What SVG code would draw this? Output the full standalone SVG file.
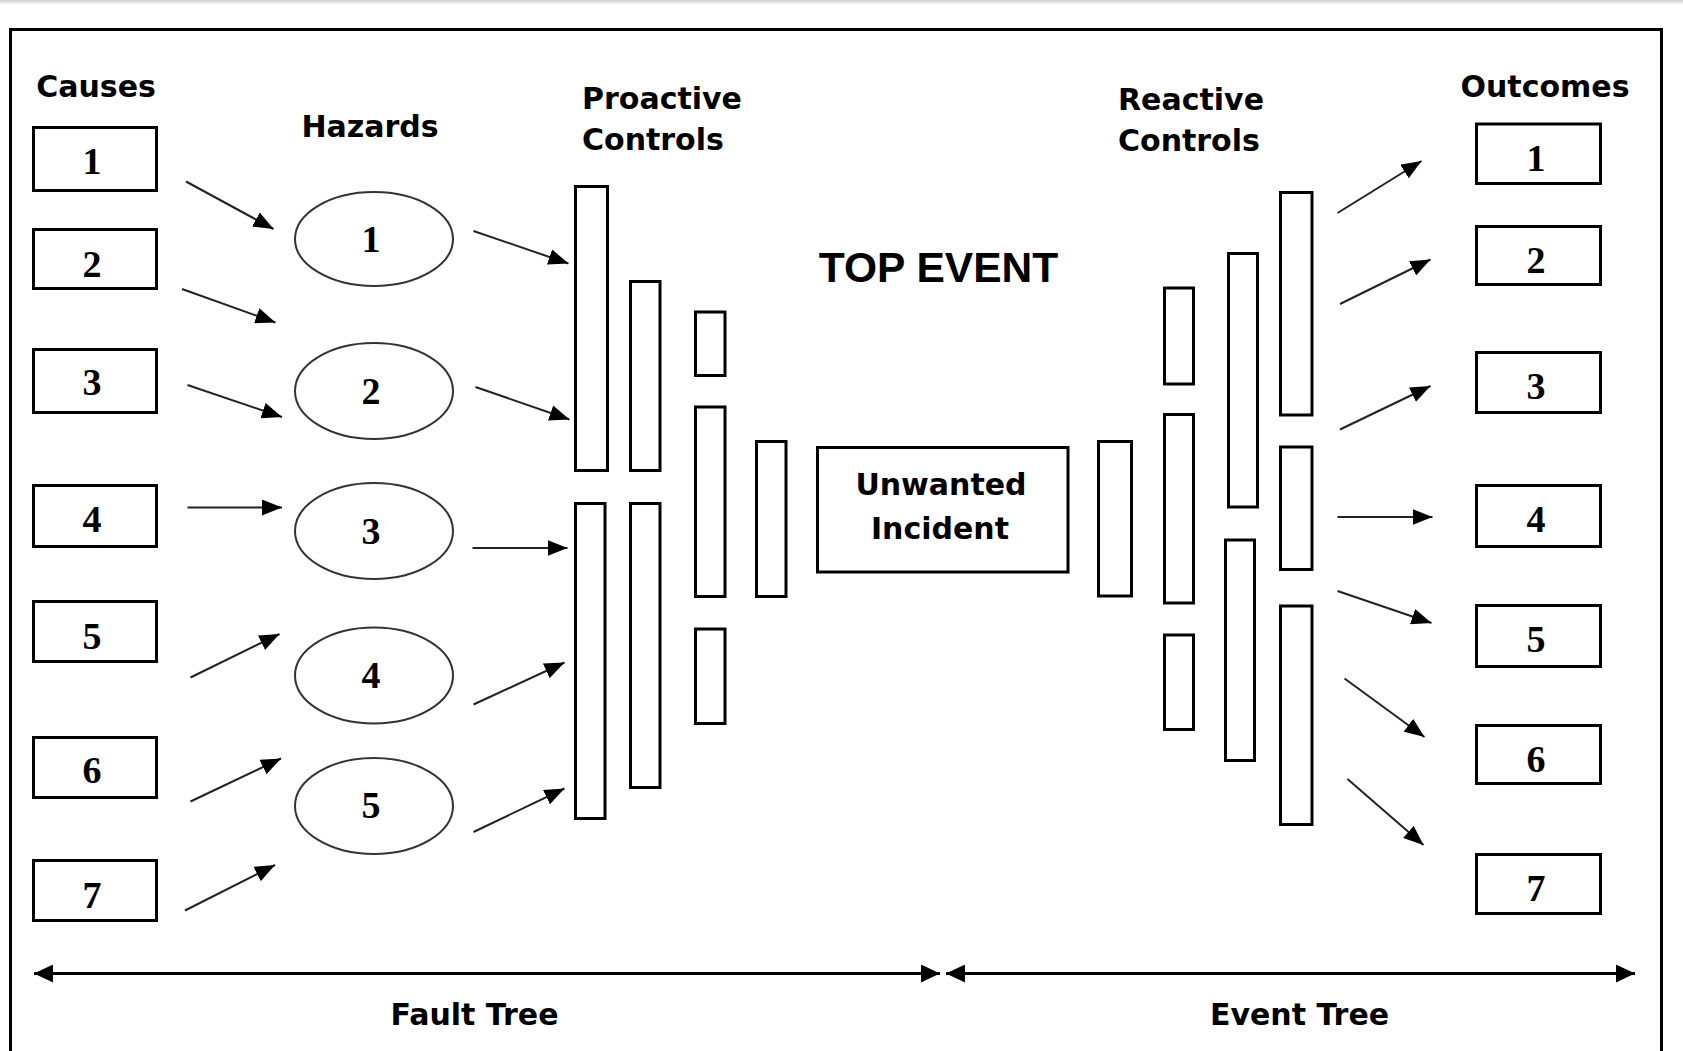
<svg xmlns="http://www.w3.org/2000/svg" width="1683" height="1051" viewBox="0 0 1683 1051">
<defs>
<style>
.bx{fill:#fff;stroke:#000;stroke-width:3}
.el{fill:#fff;stroke:#333;stroke-width:2}
.lbl{font-family:"DejaVu Sans",sans-serif;font-weight:bold;font-size:30px;fill:#000}
.num{font-family:"Liberation Serif",serif;font-weight:bold;font-size:38px;fill:#000;text-anchor:middle}
.ar{stroke:#222;stroke-width:2;fill:none;marker-end:url(#ah)}
.ax{stroke:#000;stroke-width:3;fill:none;marker-start:url(#ah2);marker-end:url(#ah2)}
</style>
<marker id="ah" viewBox="0 0 20 16" refX="20" refY="8" markerWidth="20" markerHeight="16" orient="auto" markerUnits="userSpaceOnUse"><path d="M0,0 L20,8 L0,16 Z" fill="#000"/></marker>
<marker id="ah2" viewBox="0 0 19 18" refX="19" refY="9" markerWidth="19" markerHeight="18" orient="auto-start-reverse" markerUnits="userSpaceOnUse"><path d="M0,0 L19,9 L0,18 Z" fill="#000"/></marker>
<linearGradient id="topg" x1="0" y1="0" x2="0" y2="1"><stop offset="0" stop-color="#d0d0d0"/><stop offset="1" stop-color="#fff"/></linearGradient>
</defs>
<rect x="0" y="0" width="1683" height="1051" fill="#fff"/>
<rect x="0" y="0" width="1683" height="5" fill="url(#topg)"/>
<rect id="frame" x="10.5" y="29.5" width="1651" height="1030" fill="none" stroke="#000" stroke-width="3"/>

<g id="labels">
<text class="lbl" x="96" y="97" text-anchor="middle">Causes</text>
<text class="lbl" x="370" y="137" text-anchor="middle">Hazards</text>
<text class="lbl" x="582" y="109">Proactive</text>
<text class="lbl" x="582" y="150">Controls</text>
<text class="lbl" x="1118" y="110">Reactive</text>
<text class="lbl" x="1118" y="151">Controls</text>
<text class="lbl" x="1545" y="97" text-anchor="middle">Outcomes</text>
<text x="938.5" y="282" text-anchor="middle" font-family="Liberation Sans, Arial, sans-serif" font-weight="bold" font-size="42.5">TOP EVENT</text>
<text class="lbl" x="474.5" y="1024.5" text-anchor="middle">Fault Tree</text>
<text class="lbl" x="1299.5" y="1024.5" text-anchor="middle">Event Tree</text>
</g>

<g id="causes">
<g id="cause1"><rect class="bx" x="33.5" y="127.5" width="123" height="63"/><text class="num" x="92" y="174">1</text></g>
<g id="cause2"><rect class="bx" x="33.5" y="229.5" width="123" height="59"/><text class="num" x="92" y="277">2</text></g>
<g id="cause3"><rect class="bx" x="33.5" y="349.5" width="123" height="63"/><text class="num" x="92" y="395">3</text></g>
<g id="cause4"><rect class="bx" x="33.5" y="485.5" width="123" height="61"/><text class="num" x="92" y="532">4</text></g>
<g id="cause5"><rect class="bx" x="33.5" y="601.5" width="123" height="60"/><text class="num" x="92" y="649">5</text></g>
<g id="cause6"><rect class="bx" x="33.5" y="737.5" width="123" height="60"/><text class="num" x="92" y="783">6</text></g>
<g id="cause7"><rect class="bx" x="33.5" y="860.5" width="123" height="60"/><text class="num" x="92" y="908">7</text></g>
</g>

<g id="hazards">
<g id="hazard1"><ellipse class="el" cx="374" cy="239" rx="79" ry="47"/><text class="num" x="371" y="252">1</text></g>
<g id="hazard2"><ellipse class="el" cx="374" cy="391" rx="79" ry="48"/><text class="num" x="371" y="404">2</text></g>
<g id="hazard3"><ellipse class="el" cx="374" cy="531" rx="79" ry="48"/><text class="num" x="371" y="544">3</text></g>
<g id="hazard4"><ellipse class="el" cx="374" cy="675.5" rx="79" ry="48"/><text class="num" x="371" y="688">4</text></g>
<g id="hazard5"><ellipse class="el" cx="374" cy="806" rx="79" ry="48"/><text class="num" x="371" y="818">5</text></g>
</g>

<g id="proactive-controls">
<rect id="p1a" class="bx" x="575.5" y="186.5" width="32" height="284"/>
<rect id="p1b" class="bx" x="575.5" y="503.5" width="29.5" height="315"/>
<rect id="p2a" class="bx" x="630.5" y="281.5" width="29.5" height="189"/>
<rect id="p2b" class="bx" x="630.5" y="503.5" width="29.5" height="284"/>
<rect id="p3a" class="bx" x="695.5" y="312" width="29.5" height="63.5"/>
<rect id="p3b" class="bx" x="695.5" y="407" width="29.5" height="189.5"/>
<rect id="p3c" class="bx" x="695.5" y="629" width="29.5" height="94.5"/>
<rect id="p4" class="bx" x="756.5" y="441.5" width="29.5" height="155"/>
</g>

<g id="unwanted-incident">
<rect class="bx" x="817.5" y="447.5" width="250.5" height="124.5"/>
<text class="lbl" x="941" y="495" text-anchor="middle">Unwanted</text>
<text class="lbl" x="940" y="538.5" text-anchor="middle">Incident</text>
</g>

<g id="reactive-controls">
<rect id="r1" class="bx" x="1098.5" y="441.5" width="33" height="154.5"/>
<rect id="r2a" class="bx" x="1164.5" y="288" width="29" height="96"/>
<rect id="r2b" class="bx" x="1164.5" y="414.5" width="29" height="188.5"/>
<rect id="r2c" class="bx" x="1164.5" y="635" width="29" height="94.5"/>
<rect id="r3a" class="bx" x="1228.5" y="253.5" width="29" height="253.5"/>
<rect id="r3b" class="bx" x="1225.5" y="540" width="29" height="220.5"/>
<rect id="r4a" class="bx" x="1280.5" y="192.5" width="31.5" height="222.5"/>
<rect id="r4b" class="bx" x="1280.5" y="447" width="31.5" height="122.5"/>
<rect id="r4c" class="bx" x="1280.5" y="606" width="31.5" height="218.5"/>
</g>

<g id="outcomes">
<g id="outcome1"><rect class="bx" x="1476.5" y="124" width="124" height="59.5"/><text class="num" x="1536" y="171">1</text></g>
<g id="outcome2"><rect class="bx" x="1476.5" y="226.5" width="124" height="58"/><text class="num" x="1536" y="273">2</text></g>
<g id="outcome3"><rect class="bx" x="1476.5" y="352.5" width="124" height="60"/><text class="num" x="1536" y="399">3</text></g>
<g id="outcome4"><rect class="bx" x="1476.5" y="485.5" width="124" height="61"/><text class="num" x="1536" y="532">4</text></g>
<g id="outcome5"><rect class="bx" x="1476.5" y="605.5" width="124" height="61"/><text class="num" x="1536" y="652">5</text></g>
<g id="outcome6"><rect class="bx" x="1476.5" y="725.5" width="124" height="58"/><text class="num" x="1536" y="772">6</text></g>
<g id="outcome7"><rect class="bx" x="1476.5" y="854.5" width="124" height="59"/><text class="num" x="1536" y="901">7</text></g>
</g>

<g id="connectors">
<line class="ar" x1="186" y1="181.5" x2="273.5" y2="229"/>
<line class="ar" x1="182" y1="289" x2="275.5" y2="322.5"/>
<line class="ar" x1="187.5" y1="385" x2="282" y2="417"/>
<line class="ar" x1="187.5" y1="507.5" x2="282" y2="507.5"/>
<line class="ar" x1="190.5" y1="677.5" x2="279.5" y2="634"/>
<line class="ar" x1="190.5" y1="801.5" x2="281" y2="758.5"/>
<line class="ar" x1="185" y1="910.5" x2="275" y2="865"/>
<line class="ar" x1="473.5" y1="231" x2="568.5" y2="263.5"/>
<line class="ar" x1="475.5" y1="387" x2="569.5" y2="419.5"/>
<line class="ar" x1="472.5" y1="548" x2="567.5" y2="548"/>
<line class="ar" x1="473.5" y1="704.5" x2="564.5" y2="662.5"/>
<line class="ar" x1="473.5" y1="832" x2="564.5" y2="788.5"/>
<line class="ar" x1="1337.5" y1="213" x2="1421.5" y2="161"/>
<line class="ar" x1="1340" y1="304" x2="1430.5" y2="259.5"/>
<line class="ar" x1="1340" y1="429.5" x2="1430.5" y2="386"/>
<line class="ar" x1="1337.5" y1="517" x2="1432.5" y2="517"/>
<line class="ar" x1="1337.5" y1="591" x2="1431.5" y2="623"/>
<line class="ar" x1="1344.5" y1="678.5" x2="1424.5" y2="737"/>
<line class="ar" x1="1347.5" y1="779" x2="1423.5" y2="845"/>
<line class="ax" x1="34" y1="973.5" x2="940" y2="973.5"/>
<line class="ax" x1="946" y1="973.5" x2="1635" y2="973.5"/>
</g>
</svg>
